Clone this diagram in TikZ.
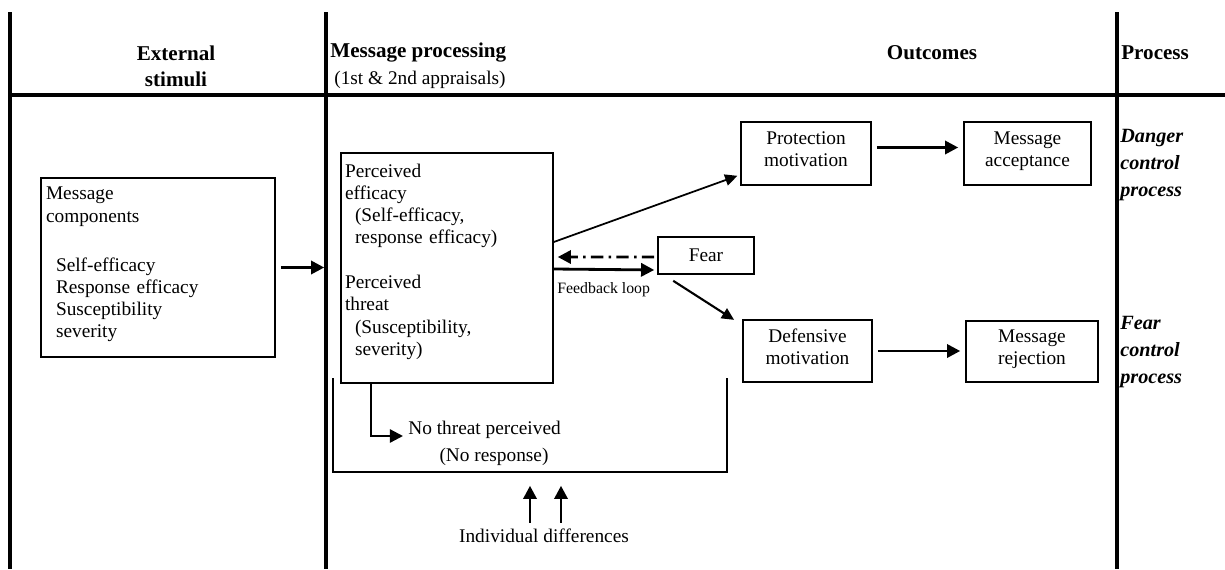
\documentclass[tikz,border=0pt]{standalone}
\usepackage{fontspec}
\setmainfont{Liberation Serif}
\usetikzlibrary{arrows.meta,positioning,calc}

\begin{document}
\begin{tikzpicture}[x=0.02cm, y=-0.02cm, font=\fontsize{11}{12.6}\selectfont,
    every node/.style={inner sep=0pt},
    box/.style={draw, line width=0.9pt, align=center},
    lbox/.style={draw, line width=0.9pt, align=left},
    arr/.style={-{Triangle[length=7.5pt,width=7.5pt]}, line width=1.6pt},
    thinarr/.style={-{Triangle[length=7pt,width=6.5pt]}, line width=1pt},
    rule/.style={line width=1.8pt},
    head/.style={font=\fontsize{12}{14.8}\selectfont\bfseries},
    proc/.style={font=\fontsize{11.5}{15.4}\selectfont\bfseries\itshape, align=left, anchor=north west}]
    \def\ind{\hspace*{0.2cm}}
    \useasboundingbox (0,0) rectangle (1225,569);
    \draw[rule] (10,12) -- (10,569) (326,12) -- (326,569) (1117,12) -- (1117,569);
    \draw[rule] (10,95) -- (1225,95);
    \node[head, align=center] (hext) at (176,66) {External\\stimuli};
    \node[head, anchor=west] (hmsg) at (330,53) {Message processing};
    \node[anchor=west] (happr) at (334,80) {(1st \& 2nd appraisals)};
    \node[head] (hout) at (932,53) {Outcomes};
    \node[head, anchor=west] (hproc) at (1121,53) {Process};
    \node[proc] (danger) at (1120,129) {Danger\\control\\process};
    \node[proc] (fearctl) at (1120,316) {Fear\\control\\process};
    \node[lbox, minimum width=4.68cm, minimum height=3.58cm, text width=4.48cm, inner xsep=0.1cm] (comp) at (158,267.5)
    {Message\\components\\[15.6pt]
    \ind Self-efficacy\\
    \ind Response efficacy\\
    \ind Susceptibility\\
    \ind severity\\[-7pt]\mbox{}};
    \node[lbox, minimum width=4.24cm, minimum height=4.6cm, text width=4.08cm, inner xsep=0.08cm] (perc) at (447,268)
    {Perceived\\efficacy\\
    \ind (Self-efficacy,\\
    \ind response efficacy)\\[13pt]
    Perceived\\threat\\
    \ind (Susceptibility,\\
    \ind severity)\\[-3pt]\mbox{}};
    \node[box, minimum width=2.6cm, minimum height=1.26cm] (prot) at (806,153.5) {Protection\\motivation\\[-8pt]\mbox{}};
    \node[box, minimum width=2.54cm, minimum height=1.26cm] (acc) at (1027.5,153.5) {Message\\acceptance\\[-8pt]\mbox{}};
    \node[box, minimum width=1.92cm, minimum height=0.74cm] (fear) at (706,255.5) {Fear};
    \node[box, minimum width=2.58cm, minimum height=1.24cm] (def) at (807.5,351) {Defensive\\motivation\\[-8pt]\mbox{}};
    \node[box, minimum width=2.64cm, minimum height=1.22cm] (rej) at (1032,351.5) {Message\\rejection\\[-8pt]\mbox{}};
    \node[anchor=west, font=\fontsize{9}{11}\selectfont] (fb) at (557,290) {Feedback loop};
    \node[anchor=west] (nothreat) at (408,430) {No threat perceived};
    \node (noresp) at (494,457) {(No response)};
    \node (indiv) at (544,536) {Individual differences};
    \draw[arr, shorten <=0.1cm, shorten >=0.32cm] (comp.east) -- (comp.east -| perc.west);
    \draw[thinarr, shorten >=0.06cm] ($(perc.east)+(0,-26)$) -- ($(prot.south west)+(0,-11)$);
    \draw[arr, shorten <=0.1cm, shorten >=0.1cm] ($(prot.east)+(0,-6)$) -- ($(acc.west)+(0,-6)$);
    \draw[arr, dash pattern=on 7pt off 3pt on 1.5pt off 3pt, shorten <=0.06cm, shorten >=0.08cm] ($(fear.west)+(0,1.5)$) -- ($(perc.east)+(0,-11)$);
    \draw[arr, shorten >=0.06cm] ($(perc.east)+(0,1)$) -- ($(fear.west)+(0,14.5)$);
    \draw[thinarr, line width=1.2pt, shorten >=0.05cm] ($(fear.south west)+(16,6)$) -- ($(def.north west)+(-6,2)$);
    \draw[arr, shorten <=0.1cm, shorten >=0.1cm] (def.east) -- (def.east -| rej.west);
    \draw[line width=0.9pt] (333,378) |- (727,472) -- (727,378);
    \draw[arr, line width=1.3pt, shorten >=0.1cm] ($(perc.south west)+(31,0)$) |- ($(nothreat.west)+(0,6)$);
    \draw[arr] ($(indiv.north)+(-14,-6)$) -- ++(0,-37);
    \draw[arr] ($(indiv.north)+(17,-6)$) -- ++(0,-37);
\end{tikzpicture}
\end{document}
